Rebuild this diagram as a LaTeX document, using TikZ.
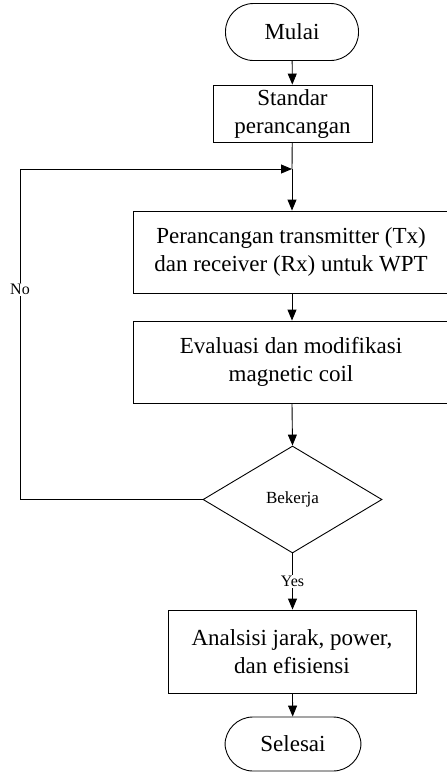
\documentclass[tikz,border=0pt]{standalone}
\usepackage{fontspec}
\setmainfont{Liberation Serif}
\usetikzlibrary{shapes.geometric,arrows.meta}
\begin{document}
\begin{tikzpicture}[x=1pt,y=-1pt,
  every path/.style={line width=0.9pt},
  box/.style={draw,line width=0.9pt,align=center,inner sep=0pt,
    font=\fontsize{23}{28}\selectfont},
  term/.style={box,rounded corners=28pt},
  decision/.style={draw,diamond,line width=0.9pt,inner sep=0pt,
    font=\fontsize{17}{20}\selectfont},
  lbl/.style={font=\fontsize{16}{19}\selectfont,inner sep=1pt},
  arr/.style={-{Triangle[width=9pt,length=11pt]}}
]
\useasboundingbox (0,0) rectangle (447,772);

\node[term,minimum width=133pt,minimum height=57pt] (start) at (292,32) {Mulai};
\node[box,minimum width=159pt,minimum height=57pt] (std) at (292.5,113.5) {Standar\\perancangan};
\node[box,minimum width=316pt,minimum height=82pt] (tx) at (291,252) {Perancangan transmitter (Tx)\\dan receiver (Rx) untuk WPT};
\node[box,minimum width=316pt,minimum height=82pt] (ev) at (291,362) {Evaluasi dan modifikasi\\magnetic coil};
\node[decision,minimum width=179pt,minimum height=107pt] (dec) at (292.5,499.5) {Bekerja};
\node[box,minimum width=248pt,minimum height=83pt] (an) at (292,651.5) {Analsisi jarak, power,\\dan efisiensi};
\node[term,minimum width=136pt,minimum height=54pt] (end) at (293,744) {Selesai};

\coordinate (join) at (292,169);
\coordinate (lt) at (20,169);
\coordinate (lb) at (20,499.5);

\draw[arr] (start) -- (std);
\draw (std) -- (join);
\draw[arr] (join) -- (tx.north -| join);
\draw[arr] (tx.south -| join) -- (ev.north -| join);
\draw[arr] (ev.south -| join) -- (dec.north);
\draw[arr] (dec.south) -- node[lbl,fill=white,pos=0.5] (yes) {Yes} (an.north -| dec.south);
\draw[arr] (an) -- (end);
\draw[arr] (dec.west) -- (lb) -- node[lbl,fill=white,pos=0.635] (no) {No} (lt) -- (join);
\end{tikzpicture}
\end{document}
